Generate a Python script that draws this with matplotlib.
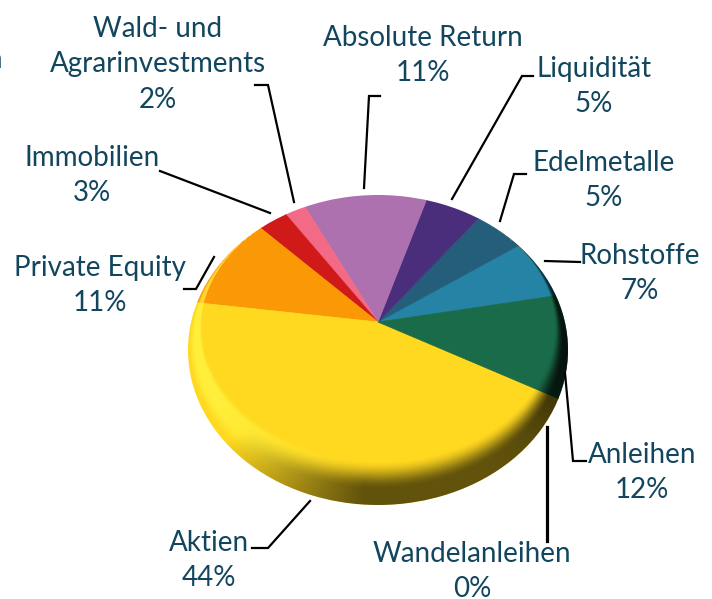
import numpy as np
import matplotlib
matplotlib.use('Agg')
import matplotlib.pyplot as plt
from matplotlib.patches import Ellipse

# Data, counter clockwise from the green/teal border
categories = ['Rohstoffe', 'Edelmetalle', 'Liquidität', 'Absolute Return',
              'Wald- und\nAgrarinvestments', 'Immobilien', 'Private Equity',
              'Aktien', 'Wandelanleihen', 'Anleihen']
shares = [7.4, 5.0, 5.0, 10.51, 1.9, 2.8, 11.4, 43.52, 0.0, 12.47]
slice_colors = ['#2584a6', '#245e7a', '#4a2e7c', '#ac71ae', '#f26a85',
                '#d01a1a', '#fa9806', '#ffd820', '#c8b300', '#1a6b49']

W, H = 712, 599
TEXT = '#12465e'
plt.rcParams['font.family'] = ['Lato', 'DejaVu Sans']

# pie geometry in pixels
cx, cy = 378, 322
rx, ry = 190, 127
sil_cy, sil_ry = 350, 155


def px_x(x):
    return (x - cx) / rx


def px_y(y):
    return (cy - y) / ry


def smooth(a, lo, hi):
    s = np.clip((a - lo) / (hi - lo), 0, 1)
    return s * s * (3 - 2 * s)


def bevel_coord():
    # which nested ellipse every pixel lies on, 0 = flat top, 1 = outline
    yy, xx = np.mgrid[0:H, 0:W] + 0.5
    b = np.ones((H, W))
    for t in np.linspace(1, 0, 120):
        a = 176 + 14 * t
        c = 131 + 24 * t
        inside = ((xx - cx) / a) ** 2 + ((yy - 326 - 24 * t) / c) ** 2 <= 1
        b[inside] = t
    dx = (xx - cx) / rx
    dy = (yy - sil_cy) / sil_ry
    n = np.hypot(dx, dy) + 1e-6
    return b, dx / n, dy / n


fig = plt.figure(figsize=(W / 100, H / 100), dpi=100)
ax = fig.add_axes([0, 0, 1, 1])

wedges, _ = ax.pie(shares, colors=slice_colors, startangle=12.5, radius=3)
ax.set_aspect('auto')

outline = Ellipse((0, px_y(sil_cy)), 2, 2 * sil_ry / ry, facecolor='none', edgecolor='none')
ax.add_patch(outline)
for w, c in zip(wedges, slice_colors):
    w.set_edgecolor(c)
    w.set_linewidth(0.5)
    w.set_clip_on(True)
    w.set_clip_path(outline)

# shading of the rim
b, ux, uy = bevel_coord()
light = -0.8 * ux - 0.6 * uy
dark = smooth(b, 0.08, 0.68) * np.clip(0.22 - 0.75 * light, 0, 0.62)
dark = dark + smooth(b, 0.0, 0.4) * np.clip(ux, 0, 1) ** 8 * 0.2
shine = smooth(b, 0.0, 0.2) * (1 - smooth(b, 0.5, 0.95)) * np.clip(light + 0.45, 0, 1) * 0.6
extent = (px_x(0), px_x(W), px_y(H), px_y(0))
for rgb, alpha in (((1.0, 1.0, 0.3), shine), ((0.0, 0.0, 0.0), dark)):
    layer = np.zeros((H, W, 4))
    layer[..., :3] = rgb
    layer[..., 3] = np.clip(alpha, 0, 1)
    im = ax.imshow(layer, extent=extent, aspect='auto', origin='upper', zorder=3)
    im.set_clip_path(outline)
ax.set_xlim(px_x(0), px_x(W))
ax.set_ylim(px_y(H), px_y(0))
ax.axis('off')

# labels and leaders sit on a pixel overlay
top = fig.add_axes([0, 0, 1, 1], facecolor='none')
top.set_xlim(0, W)
top.set_ylim(H, 0)
top.axis('off')

label_pos = {
    'Rohstoffe': (640, 256), 'Edelmetalle': (604, 163), 'Liquidität': (594, 69),
    'Absolute Return': (423, 38), 'Wald- und\nAgrarinvestments': (158, 29),
    'Immobilien': (92, 158), 'Private Equity': (100, 268), 'Aktien': (209, 543),
    'Wandelanleihen': (472, 554), 'Anleihen': (642, 455),
}
leaders = {
    'Rohstoffe': [(545, 261), (580, 262)],
    'Edelmetalle': [(526, 174), (514, 174), (500, 221)],
    'Liquidität': [(533, 76), (522, 76), (452, 199)],
    'Absolute Return': [(380, 96), (369, 96), (364, 188)],
    'Wald- und\nAgrarinvestments': [(255, 85), (268, 85), (294, 202)],
    'Immobilien': [(160, 171), (270, 213)],
    'Private Equity': [(214, 257), (196, 289), (184, 289)],
    'Aktien': [(310, 501), (268, 548), (252, 548)],
    'Wandelanleihen': [(547, 427), (547, 541)],
    'Anleihen': [(565, 373), (573, 461), (586, 461)],
}

for name, share in zip(categories, shares):
    x, y = label_pos[name]
    lines = name.split('\n') + [f'{share:.0f}%']
    for i, line in enumerate(lines):
        top.text(x, y + i * 35.3, line, color=TEXT, fontsize=20, ha='center', va='center')
    pts = np.array(leaders[name])
    lw = 2.3 if name == 'Wandelanleihen' else 1.6
    top.plot(pts[:, 0], pts[:, 1], color='black', lw=lw, solid_joinstyle='miter')

# cut off text at the left border of the source picture
top.text(3, 60, 'n', color=TEXT, fontsize=20, ha='right', va='center', clip_on=True)

fig.savefig('out.png', dpi=100)
